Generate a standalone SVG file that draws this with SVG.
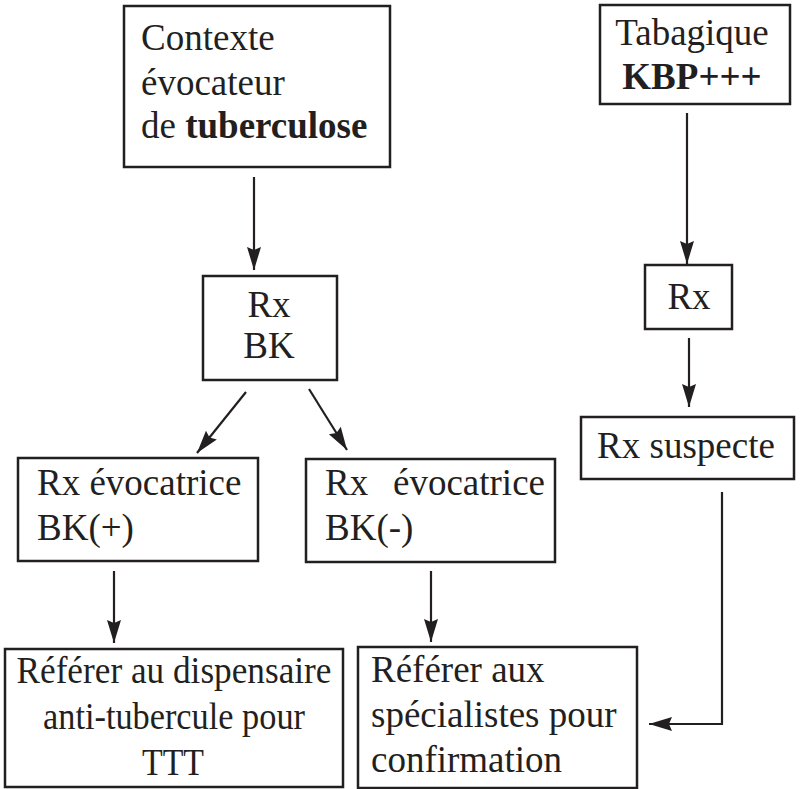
<svg xmlns="http://www.w3.org/2000/svg" width="801" height="789" viewBox="0 0 801 789">
  <defs>
    <style>
      .box { fill: #ffffff; stroke: #231f20; stroke-width: 2.5; }
      .lbl { font-family: "Liberation Serif", "Times New Roman", serif; font-size: 37px; fill: #231f20; }
      .mid { text-anchor: middle; }
      .b { font-weight: bold; }
      .edge { fill: none; stroke: #231f20; stroke-width: 2.2; }
    </style>
    <marker id="arrow" markerUnits="userSpaceOnUse" markerWidth="28" markerHeight="18" viewBox="-26 -9 28 18" refX="0" refY="0" orient="auto">
      <path d="M0,0 L-23,-7 L-20,0 L-23,7 Z" fill="#231f20"/>
    </marker>
  </defs>
  <rect width="801" height="789" fill="#ffffff"/>

  <g id="connectors">
    <line class="edge" x1="254" y1="177" x2="254" y2="270" marker-end="url(#arrow)"/>
    <line class="edge" x1="687" y1="113" x2="687" y2="264" marker-end="url(#arrow)"/>
    <line class="edge" x1="689" y1="338" x2="689" y2="407" marker-end="url(#arrow)"/>
    <line class="edge" x1="246" y1="392" x2="197" y2="453" marker-end="url(#arrow)"/>
    <line class="edge" x1="309" y1="389" x2="347" y2="450" marker-end="url(#arrow)"/>
    <line class="edge" x1="114" y1="571" x2="114" y2="643" marker-end="url(#arrow)"/>
    <line class="edge" x1="431" y1="571" x2="431" y2="642" marker-end="url(#arrow)"/>
    <polyline class="edge" points="722,492 722,724 649,724" marker-end="url(#arrow)"/>
  </g>

  <g id="contexte">
    <rect class="box" x="124" y="6" width="266" height="161"/>
    <text class="lbl" x="141" y="50">Contexte</text>
    <text class="lbl" x="141" y="95">évocateur</text>
    <text class="lbl" x="141" y="138">de <tspan class="b">tuberculose</tspan></text>
  </g>

  <g id="tabagique">
    <rect class="box" x="600" y="5" width="190" height="99"/>
    <text class="lbl mid" x="692" y="45">Tabagique</text>
    <text class="lbl mid b" x="692" y="89">KBP+++</text>
  </g>

  <g id="rx-bk">
    <rect class="box" x="203" y="276" width="134" height="104"/>
    <text class="lbl mid" x="269" y="317">Rx</text>
    <text class="lbl mid" x="269" y="358">BK</text>
  </g>

  <g id="rx">
    <rect class="box" x="645" y="265" width="87" height="64"/>
    <text class="lbl mid" x="689" y="309">Rx</text>
  </g>

  <g id="rx-suspecte">
    <rect class="box" x="581" y="417" width="213" height="62"/>
    <text class="lbl mid" x="686" y="458">Rx suspecte</text>
  </g>

  <g id="bk-positif">
    <rect class="box" x="18" y="458" width="240" height="103"/>
    <text class="lbl" x="37" y="495">Rx évocatrice</text>
    <text class="lbl" x="37" y="540">BK(+)</text>
  </g>

  <g id="bk-negatif">
    <rect class="box" x="306" y="459" width="249" height="103"/>
    <text class="lbl" x="325" y="495">Rx</text>
    <text class="lbl" x="545" y="495" text-anchor="end">évocatrice</text>
    <text class="lbl" x="325" y="540">BK(-)</text>
  </g>

  <g id="dispensaire">
    <rect class="box" x="5" y="649" width="338" height="138"/>
    <text class="lbl mid" x="174" y="683" textLength="315" lengthAdjust="spacingAndGlyphs">Référer au dispensaire</text>
    <text class="lbl mid" x="174" y="729" textLength="262" lengthAdjust="spacingAndGlyphs">anti-tubercule pour</text>
    <text class="lbl mid" x="173" y="775" textLength="62" lengthAdjust="spacingAndGlyphs">TTT</text>
  </g>

  <g id="specialistes">
    <rect class="box" x="358" y="647" width="279" height="141"/>
    <text class="lbl" x="371" y="682">Référer aux</text>
    <text class="lbl" x="371" y="727">spécialistes pour</text>
    <text class="lbl" x="371" y="772">confirmation</text>
  </g>
</svg>
